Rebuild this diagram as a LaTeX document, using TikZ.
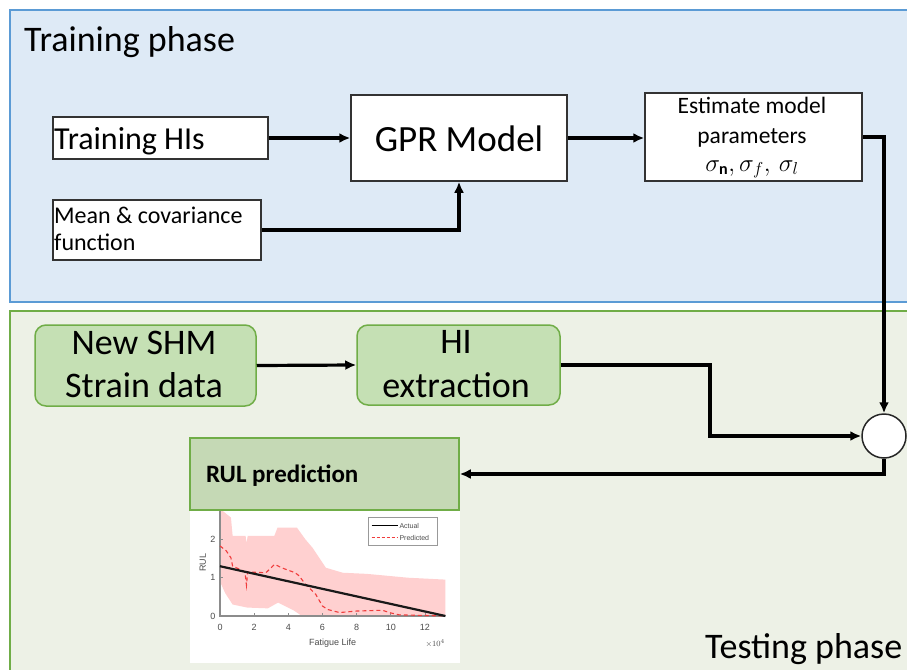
\documentclass[tikz,border=0pt]{standalone}
\usepackage{fontspec}
\setmainfont{Carlito}
\newfontfamily\plotfont{Liberation Sans}
\usetikzlibrary{arrows.meta}
\definecolor{trainfill}{RGB}{222,234,246}
\definecolor{trainline}{RGB}{91,155,213}
\definecolor{testfill}{RGB}{237,241,230}
\definecolor{testline}{RGB}{112,173,71}
\definecolor{greenbox}{RGB}{197,224,180}
\definecolor{rulbox}{RGB}{197,217,181}
\definecolor{bandpink}{RGB}{255,208,208}
\definecolor{predred}{RGB}{240,60,60}
\tikzset{
  wbox/.style={draw=black!80, line width=1.5pt, fill=white, inner sep=0pt},
  gbox/.style={draw=testline, line width=1.5pt, fill=greenbox, rounded corners=11pt, inner sep=0pt},
  rbox/.style={draw=testline, line width=1.5pt, fill=rulbox, inner sep=0pt},
  circnode/.style={circle, draw=black!85, line width=1.5pt, fill=white, minimum size=44pt, inner sep=0pt},
  arr/.style={draw=black, line width=3.2pt, -{Latex[length=11pt,width=10pt]}},
  txt/.style={inner sep=0pt, anchor=base west},
  ctxt/.style={inner sep=0pt, anchor=base},
  plt/.style={inner sep=0pt, font=\plotfont\fontsize{9}{10}\selectfont, text=black!70},
}
\begin{document}
\begin{tikzpicture}[x=1pt,y=-1pt]
\useasboundingbox (0,0) rectangle (907,669);
\clip (0,0) rectangle (907,669);
\fill[white] (0,0) rectangle (907,669);
% panels
\fill[trainfill] (10,10) rectangle (920,302);
\draw[trainline, line width=1.4pt] (920,10) -- (10,10) -- (10,302) -- (920,302);
\fill[testfill] (10,311) rectangle (920,690);
\draw[testline, line width=1.4pt] (920,311) -- (10,311) -- (10,690);
\node[txt, font=\fontsize{36}{40}\selectfont] (trainlbl) at (24,52) {Training phase};
\node[txt, font=\fontsize{36}{40}\selectfont] (testlbl) at (705,658) {Testing phase};

% training boxes
\node[wbox, minimum width=215pt, minimum height=42pt] (thi) at (160.5,138) {};
\node[txt, font=\fontsize{32}{36}\selectfont] (thit) at (54,149) {Training HIs};
\node[wbox, minimum width=208pt, minimum height=60pt] (mean) at (157,230) {};
\node[txt, font=\fontsize{24}{28}\selectfont] (meant1) at (54,223) {Mean \& covariance};
\node[txt, font=\fontsize{24}{28}\selectfont] (meant2) at (54,250) {function};
\node[wbox, minimum width=216pt, minimum height=86pt] (gpr) at (459,138) {};
\node[ctxt, font=\fontsize{37}{40}\selectfont] (gprt) at (459,151) {GPR Model};
\node[wbox, minimum width=217pt, minimum height=88pt] (est) at (753.5,137) {};
\node[ctxt, font=\fontsize{23.5}{28}\selectfont] (estt1) at (752,113) {Estimate model};
\node[ctxt, font=\fontsize{23.5}{28}\selectfont] (estt2) at (752,143) {parameters};
\node[ctxt, font=\fontsize{23}{28}\selectfont] (estt3) at (752,171) {$\sigma_{\mathbf{n}},\sigma_f,\,\sigma_l$};

% testing boxes
\node[gbox, minimum width=221pt, minimum height=81pt] (shm) at (145.5,365.5) {};
\node[ctxt, font=\fontsize{36}{40}\selectfont] (shmt1) at (144,354) {New SHM};
\node[ctxt, font=\fontsize{36}{40}\selectfont] (shmt2) at (144,397) {Strain data};
\node[gbox, minimum width=203pt, minimum height=80pt] (hi) at (458.5,365) {};
\node[ctxt, font=\fontsize{36}{40}\selectfont] (hit1) at (456,353) {HI};
\node[ctxt, font=\fontsize{36}{40}\selectfont] (hit2) at (456,397) {extraction};
\node[circnode] (circ) at (884,436) {};
\coordinate (bend) at (710,436);

% plot
\begin{scope}
\clip (190,510) rectangle (460,663);
\fill[white] (190,510) rectangle (460,663);
\begin{scope}[shift={(220,616)}, x={(17.08pt,0pt)}, y={(0pt,38.3pt)}]
\fill[bandpink] (0,2.8) -- (0.64,2.57) -- (0.74,2.09) -- (1.5,2.09) -- (1.55,1.9) -- (1.62,2.09) -- (3.18,2.09) -- (3.37,2.31) -- (4.5,2.31) -- (5.0,2.0) -- (5.42,1.78) -- (6.2,1.26) -- (7.18,1.13) -- (8.6,1.1) -- (11,1.0) -- (13.2,0.95) -- (13.2,0) -- (4.8,0) -- (4.3,0.15) -- (3.4,0.35) -- (2.8,0.2) -- (1.6,0.22) -- (0.74,0.3) -- (0.3,0.6) -- (0,0.9) -- cycle;
\draw[black!45, line width=1.4pt] (0,2.8) -- (0,0) -- (13.2,0);
\foreach \t in {0,2,4,6,8,10,12} {
  \draw[black!45, line width=0.8pt] (\t,0) -- (\t,0.08);
  \node[plt] at (\t,-0.3) {\t};
}
\foreach \t in {0,1,2} {
  \draw[black!45, line width=0.8pt] (0,\t) -- (0.15,\t);
  \node[plt] at (-0.41,\t) {\t};
}
\node[plt, rotate=90] (rulax) at (-1.0,1.39) {RUL};
\node[plt] (fl) at (6.6,-0.71) {Fatigue Life};
\node[plt, font=\plotfont\fontsize{8}{9}\selectfont] (x104) at (12.6,-0.71) {$\times10^4$};
\draw[predred, line width=1.1pt, dash pattern=on 4pt off 3pt] (0,1.83) -- (0.37,1.7) -- (0.64,1.52) -- (0.74,1.3) -- (1.26,1.2) -- (1.46,1.15) -- (1.55,0.8) -- (1.62,1.15) -- (2.69,1.13) -- (3.2,1.35) -- (3.6,1.26) -- (4.4,1.13) -- (4.63,1.05) -- (5,0.83) -- (5.6,0.57) -- (6,0.26) -- (6.3,0.17) -- (7,0.09) -- (8,0.13) -- (9.5,0.15) -- (10,0.08) -- (10.5,0.03) -- (13.2,0);
\draw[black!90, line width=2.2pt] (0,1.3) -- (13.2,0);
\draw[black!40, fill=white, line width=0.8pt] (8.67,2.58) rectangle (12.7,1.84);
\draw[black, line width=1.5pt] (8.87,2.36) -- (10.42,2.36);
\draw[predred, line width=1pt, dash pattern=on 3pt off 2pt] (8.87,2.04) -- (10.42,2.04);
\node[plt, anchor=west, font=\plotfont\fontsize{7}{8}\selectfont] (la) at (10.5,2.36) {Actual};
\node[plt, anchor=west, font=\plotfont\fontsize{7}{8}\selectfont] (lp) at (10.5,2.04) {Predicted};
\end{scope}
\end{scope}

\node[rbox, minimum width=269pt, minimum height=72pt] (rul) at (324.5,474) {};
\node[txt, font=\bfseries\fontsize{25}{28}\selectfont] (rult) at (206,482) {RUL prediction};

% connectors
\draw[arr] (thi.east) -- (thi.east -| gpr.west);
\draw[arr] (mean.east) -- (mean.east -| gpr.south) -- (gpr.south);
\draw[arr] (gpr.east) -- (gpr.east -| est.west);
\draw[arr] (est.east) -- (est.east -| circ.north) -- (circ.north);
\draw[arr] (shm.east) -- (hi.west);
\draw[arr] (hi.east) -| (bend) -- (circ.west);
\draw[arr] (circ.south) |- (rul.east);
\end{tikzpicture}
\end{document}
